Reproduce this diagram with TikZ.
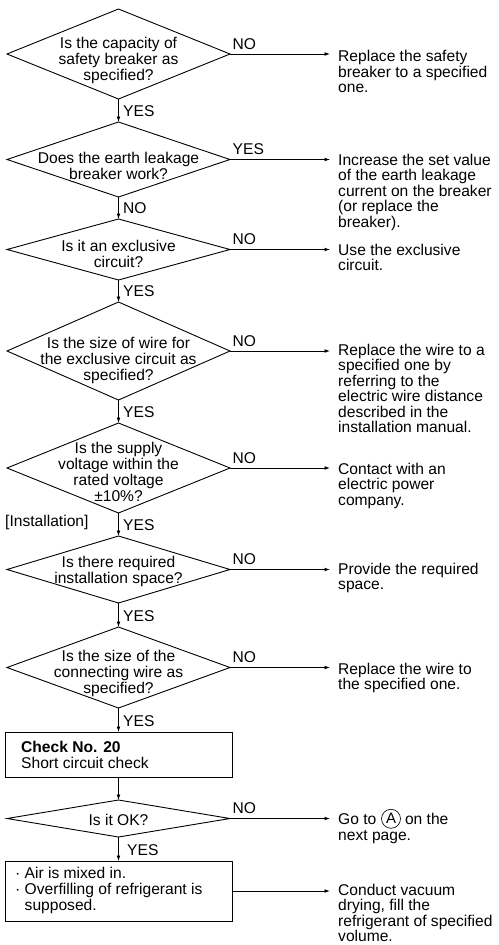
\documentclass[tikz,border=0pt]{standalone}
\usepackage{fontspec}
\setmainfont{Liberation Sans}
\usetikzlibrary{shapes.geometric,arrows.meta,calc}
\begin{document}
\begin{tikzpicture}[x=1pt,y=-1pt,
  every node/.style={text=black},
  dia/.style={draw, diamond, inner sep=0pt, outer sep=0pt, line width=0.9pt, minimum width=223pt},
  qtext/.style={align=center, anchor=base, inner sep=0pt, font=\fontsize{15.6}{16}\selectfont},
  box/.style={draw, rectangle, inner sep=0pt, outer sep=0pt, line width=0.9pt, minimum width=227pt},
  btext/.style={align=left, anchor=base west, inner sep=0pt, font=\fontsize{15.6}{16}\selectfont},
  ans/.style={align=left, anchor=base west, inner xsep=8pt, inner ysep=0pt, font=\fontsize{15.6}{15.5}\selectfont},
  lbl/.style={anchor=base west, inner sep=0pt, font=\fontsize{15.6}{16}\selectfont},
  mark circle/.style={circle, draw, line width=0.65pt, inner sep=0pt, minimum size=19pt, font=\fontsize{15}{16}\selectfont},
  arr/.style={-{Latex[length=5.5pt,width=3.8pt]}, line width=0.8pt},
]
\useasboundingbox (0,0) rectangle (498,945);

% decision diamonds and process boxes
\node[dia, minimum height=90pt] (d1) at (118.5,54) {};
\node[dia, minimum height=75pt] (d2) at (118.5,159.5) {};
\node[dia, minimum height=61pt] (d3) at (118.5,249.5) {};
\node[dia, minimum height=98pt] (d4) at (118.5,351) {};
\node[dia, minimum height=90pt] (d5) at (118.5,468) {};
\node[dia, minimum height=67pt] (d6) at (118.5,569.5) {};
\node[dia, minimum height=81pt] (d7) at (118.5,667.5) {};
\node[box, minimum height=45pt] (b1) at (118.5,754.5) {};
\node[dia, minimum height=37pt] (d8) at (118.5,818.5) {};
\node[box, minimum height=60pt] (b2) at (118.5,891) {};

% questions (positioned by the baseline of their last line)
\node[qtext] (q1) at (118.5,80) {Is the capacity of\\safety breaker as\\specified?};
\node[qtext] (q2) at (118.5,179) {Does the earth leakage\\breaker work?};
\node[qtext] (q3) at (118.5,267.5) {Is it an exclusive\\circuit?};
\node[qtext] (q4) at (118.5,380) {Is the size of wire for\\the exclusive circuit as\\specified?};
\node[qtext] (q5) at (118.5,501) {Is the supply\\voltage within the\\rated voltage\\±10\%?};
\node[qtext] (q6) at (118.5,583) {Is there required\\installation space?};
\node[qtext] (q7) at (118.5,693) {Is the size of the\\connecting wire as\\specified?};
\node[qtext] (q8) at (118.5,825) {Is it OK?};
\node[btext] (bt1) at (21,768) {\textbf{Check No. 20}\\Short circuit check};
\node[btext] (bt2) at (15,910.5) {· Air is mixed in.\\· Overfilling of refrigerant is\\\phantom{· }supposed.};
\node[lbl] (inst) at (5,526) {[Installation]};

% remedies
\node[ans] (t1) at (330,92.5) {Replace the safety\\breaker to a specified\\one.};
\node[ans] (t2) at (330,227) {Increase the set value\\of the earth leakage\\current on the breaker\\(or replace the\\breaker).};
\node[ans] (t3) at (330,270.5) {Use the exclusive\\circuit.};
\node[ans] (t4) at (330,432.5) {Replace the wire to a\\specified one by\\referring to the\\electric wire distance\\described in the\\installation manual.};
\node[ans] (t5) at (330,505) {Contact with an\\electric power\\company.};
\node[ans] (t6) at (330,589.5) {Provide the required\\space.};
\node[ans] (t7) at (330,689.5) {Replace the wire to\\the specified one.};
\node[ans] (t8) at (330,840) {Go to \hspace{20pt} on the\\next page.};
\node[mark circle] (circA) at (391,818.8) {A};
\node[ans] (t9) at (330,941.5) {Conduct vacuum\\drying, fill the\\refrigerant of specified\\volume.};

% main flow
\draw[arr] (d1.south) -- (d2.north);
\draw[arr] (d2.south) -- (d3.north);
\draw[arr] (d3.south) -- (d4.north);
\draw[arr] (d4.south) -- (d5.north);
\draw[arr] (d5.south) -- (d6.north);
\draw[arr] (d6.south) -- (d7.north);
\draw[arr] (d7.south) -- (b1.north);
\draw[arr] (b1.south) -- (d8.north);
\draw[arr] (d8.south) -- (b2.north);

\node[lbl] (y1) at ($(d2.north)+(4.5,-5.5)$) {YES};
\node[lbl] (n2) at ($(d3.north)+(4.5,-5.5)$) {NO};
\node[lbl] (y3) at ($(d4.north)+(4.5,-5.5)$) {YES};
\node[lbl] (y4) at ($(d5.north)+(4.5,-5.5)$) {YES};
\node[lbl] (y5) at ($(d6.north)+(4.5,-5.5)$) {YES};
\node[lbl] (y6) at ($(d7.north)+(4.5,-5.5)$) {YES};
\node[lbl] (y7) at ($(b1.north)+(4.5,-5.5)$) {YES};
\node[lbl] (y8) at ($(b2.north)+(8.5,-5.5)$) {YES};

% side branches
\draw[arr] (d1.east) -- (d1.east -| t1.west);
\draw[arr] (d2.east) -- (d2.east -| t2.west);
\draw[arr] (d3.east) -- (d3.east -| t3.west);
\draw[arr] (d4.east) -- (d4.east -| t4.west);
\draw[arr] (d5.east) -- (d5.east -| t5.west);
\draw[arr] (d6.east) -- (d6.east -| t6.west);
\draw[arr] (d7.east) -- (d7.east -| t7.west);
\draw[arr] (d8.east) -- (d8.east -| t8.west);
\draw[arr] (b2.east) -- (b2.east -| t9.west);

\node[lbl] (s1) at ($(d1.east)+(2.5,-5)$) {NO};
\node[lbl] (s2) at ($(d2.east)+(2.5,-5)$) {YES};
\node[lbl] (s3) at ($(d3.east)+(2.5,-5)$) {NO};
\node[lbl] (s4) at ($(d4.east)+(2.5,-5)$) {NO};
\node[lbl] (s5) at ($(d5.east)+(2.5,-5)$) {NO};
\node[lbl] (s6) at ($(d6.east)+(2.5,-5)$) {NO};
\node[lbl] (s7) at ($(d7.east)+(2.5,-5)$) {NO};
\node[lbl] (s8) at ($(d8.east)+(2.5,-5)$) {NO};
\end{tikzpicture}
\end{document}
